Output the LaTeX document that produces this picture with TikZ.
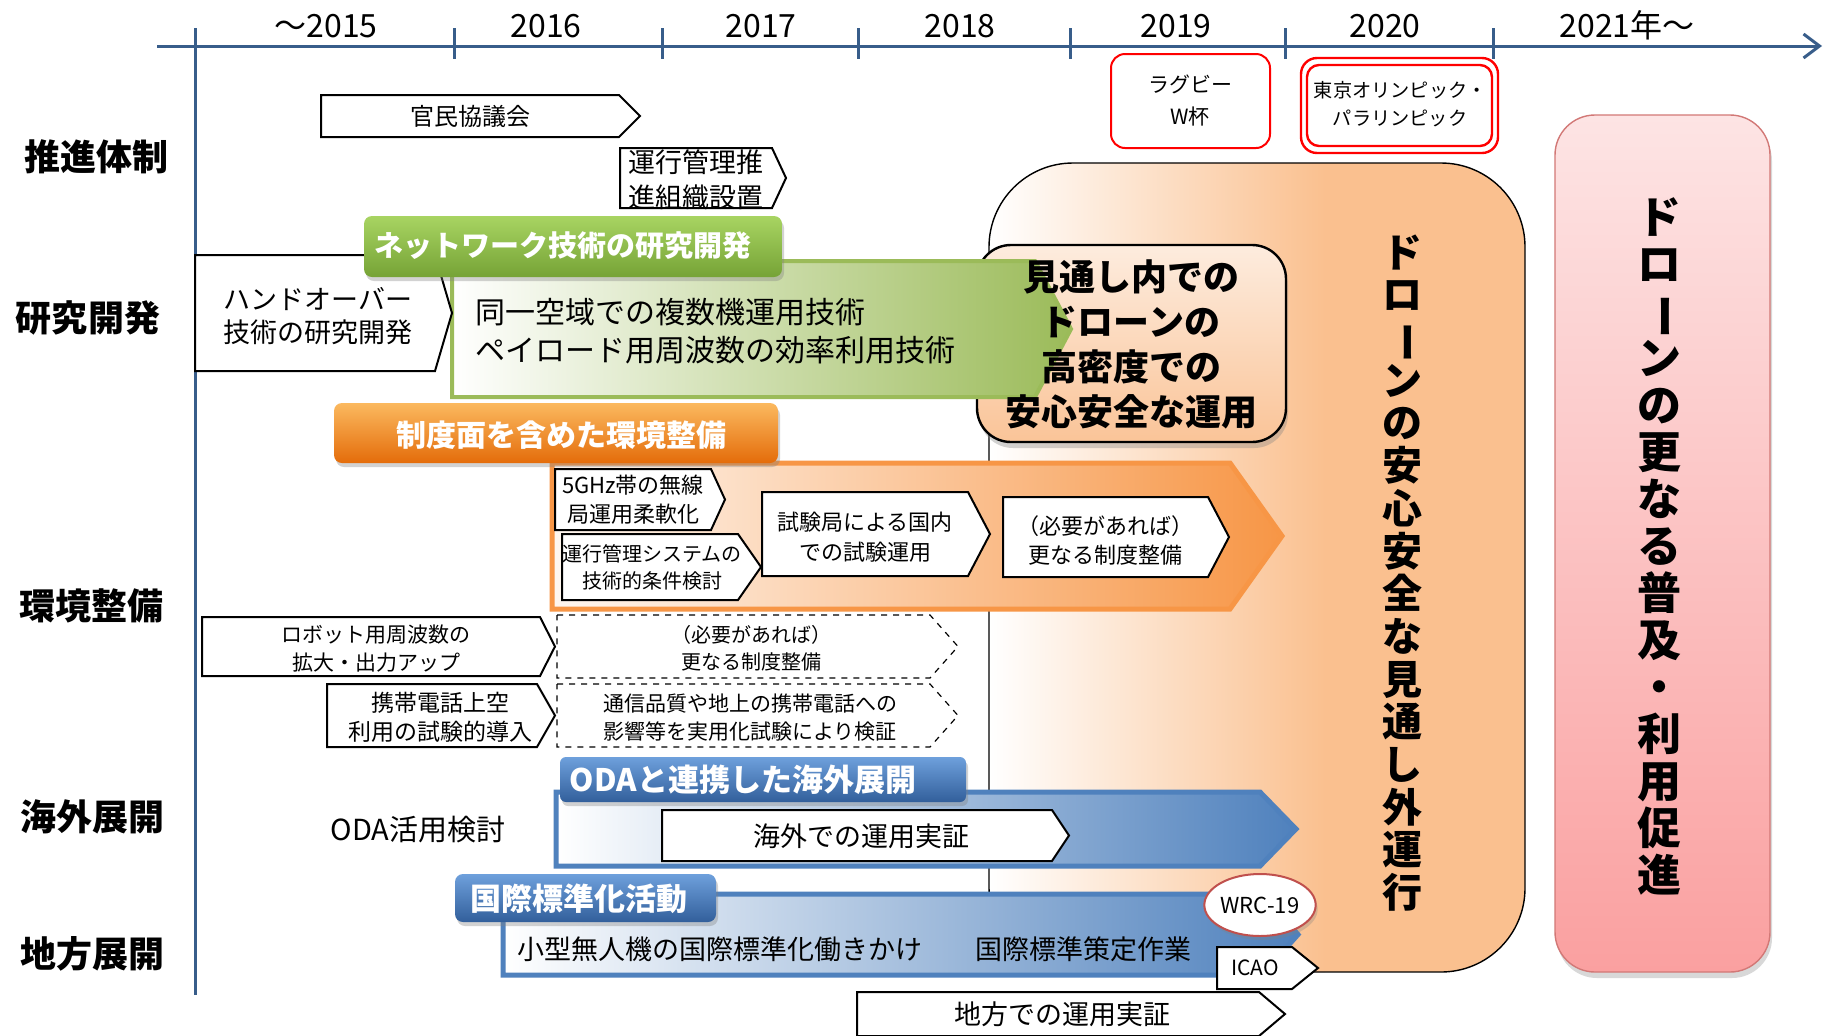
\documentclass[tikz,border=0pt]{standalone}
\usepackage{fontspec}
\setmainfont{Noto Sans CJK JP}
\usepackage{tikz}
\usetikzlibrary{arrows.meta,shadows,shapes.geometric,positioning}

\definecolor{axisblue}{RGB}{56,93,138}
\definecolor{panelorange}{RGB}{250,192,143}
\definecolor{arrowgreen}{RGB}{155,187,89}
\definecolor{arroworange}{RGB}{247,150,70}
\definecolor{arrowblue}{RGB}{79,129,189}
\definecolor{greentop}{RGB}{168,212,98}
\definecolor{greenbot}{RGB}{118,163,54}
\definecolor{orangetop}{RGB}{251,185,95}
\definecolor{orangebot}{RGB}{228,108,10}
\definecolor{bluetop}{RGB}{110,160,220}
\definecolor{bluebot}{RGB}{50,95,155}
\definecolor{peachtop}{RGB}{253,236,222}
\definecolor{peachbot}{RGB}{250,196,152}
\definecolor{pinktop}{RGB}{253,228,228}
\definecolor{pinkbot}{RGB}{250,160,160}
\definecolor{pinkline}{RGB}{210,120,118}
\definecolor{wrcred}{RGB}{192,80,77}

\newcommand\chouon{\rotatebox[origin=c]{-90}{ー}}
% pentagon arrow: [style]{left}{top}{body right}{bottom}{tip}
\newcommand\pent[6][]{\draw[#1] (#2,#3) -- (#4,#3) -- (#6,{(#3+#5)/2}) -- (#4,#5) -- (#2,#5) -- cycle;}

\tikzset{
  whitebox/.style={draw=black, fill=white, line width=1pt},
  dashbox/.style={draw=black, dashed, line width=0.6pt},
  titlebar/.style={rounded corners=4pt, drop shadow={opacity=0.35, shadow xshift=1pt, shadow yshift=-2pt}},
  fsz/.style 2 args={font=\fontsize{#1}{#2}\selectfont},
  bfsz/.style 2 args={font=\fontsize{#1}{#2}\selectfont\bfseries},
  titletext/.style={text=white, inner sep=0pt},
  rowlabel/.style={bfsz={18pt}{22pt}, inner sep=0pt},
  yearlabel/.style={fsz={16pt}{20pt}, anchor=base, inner sep=0pt},
  boxtext/.style={align=center, inner sep=0pt},
}

\begin{document}
\begin{tikzpicture}[x=0.5pt, y=-0.5pt]
\fill[white] (0,0) rectangle (1825,1035);
\useasboundingbox (0,0) rectangle (1825,1035);

% time axis
\coordinate (axis-start) at (157,46);
\coordinate (axis-end) at (1822,46);
\coordinate (axis-top) at (195,28);
\coordinate (axis-bottom) at (195,995);
\draw[axisblue, line width=1.5pt, -{Straight Barb[length=8pt,width=12pt]}] (axis-start) -- (axis-end);
\draw[axisblue, line width=1.5pt] (axis-top) -- (axis-bottom);
\foreach \x in {454,662,858,1070,1285,1493}
  \draw[axisblue, line width=1.5pt] (\x,28) -- (\x,59);

\node[yearlabel] (y2015) at (326,37) {～2015};
\node[yearlabel] (y2016) at (546,37) {2016};
\node[yearlabel] (y2017) at (761,37) {2017};
\node[yearlabel] (y2018) at (960,37) {2018};
\node[yearlabel] (y2019) at (1176,37) {2019};
\node[yearlabel] (y2020) at (1385,37) {2020};
\node[yearlabel] (y2021) at (1627,37) {2021年～};

% row labels
\node[rowlabel] (row-suishin) at (97,157) {推進体制};
\node[rowlabel] (row-kenkyu) at (88,318) {研究開発};
\node[rowlabel] (row-kankyo) at (91,606) {環境整備};
\node[rowlabel] (row-kaigai) at (92,817) {海外展開};
\node[rowlabel] (row-chihou) at (92,954) {地方展開};

% events
\draw[red, line width=1pt, rounded corners=7pt] (1111,54) rectangle (1270,148);
\node[boxtext, fsz={10.5pt}{16pt}] (rugby) at (1190,101) {ラグビー\\W杯};
\draw[red, line width=1.2pt, rounded corners=8pt] (1301,58) rectangle (1498,153);
\draw[red, line width=1.2pt, rounded corners=6pt] (1307,65) rectangle (1492,146);
\node[boxtext, fsz={9.6pt}{14pt}] (olympic) at (1400,104) {東京オリンピック・\\パラリンピック};

% panels
\begin{scope}
  \clip[rounded corners=42pt] (989,163) rectangle (1525,972);
  \fill[panelorange] (989,163) rectangle (1525,972);
  \shade[left color=white, right color=panelorange] (989,163) rectangle (1325,972);
\end{scope}
\draw[line width=0.7pt, rounded corners=42pt] (989,163) rectangle (1525,972);
\path[draw=pinkline, line width=0.7pt, top color=pinktop, bottom color=pinkbot, rounded corners=20pt,
  drop shadow={opacity=0.3, shadow xshift=1pt, shadow yshift=-3pt}] (1555,115) rectangle (1770,972);
\path[draw=black, line width=1.2pt, top color=peachtop, bottom color=peachbot, rounded corners=17pt,
  drop shadow={opacity=0.35, shadow xshift=1pt, shadow yshift=-3pt}] (977,245) rectangle (1286,442);

% 推進体制
\pent[whitebox]{321}{95}{619}{137}{640}
\node[boxtext, fsz={12pt}{15pt}] (kanmin) at (470,116) {官民協議会};
\pent[whitebox]{620}{148}{772}{208}{786}
\node[boxtext, fsz={13.5pt}{17.5pt}] (unkou-soshiki) at (696,180) {運行管理推\\進組織設置};

% 研究開発
\pent[draw=arrowgreen, line width=2pt, left color=white, right color=arrowgreen]{452}{261}{1035}{397}{1071}
\pent[whitebox]{195}{255}{435}{371}{452}
\node[boxtext, fsz={13.5pt}{16.5pt}] (handover) at (318,316) {ハンドオーバー\\技術の研究開発};
\path[titlebar, top color=greentop, bottom color=greenbot] (364,216) rectangle (782,277);
\node[titletext, bfsz={14.5pt}{17pt}] (green-title) at (563,246) {ネットワーク技術の研究開発};
\node[anchor=west, align=left, inner sep=0pt, fsz={15pt}{19pt}] (green-text) at (475,331)
  {同一空域での複数機運用技術\\ペイロード用周波数の効率利用技術};
\node[boxtext, bfsz={18pt}{22.5pt}] (los-text) at (1131,344) {見通し内での\\ドローンの\\高密度での\\安心安全な運用};

% 環境整備
\pent[draw=arroworange, line width=2.5pt, left color=arroworange!8, right color=arroworange]{552}{463}{1230}{609}{1282}
\path[titlebar, top color=orangetop, bottom color=orangebot] (334,403) rectangle (778,463);
\node[titletext, bfsz={15pt}{18pt}] (orange-title) at (561,435) {制度面を含めた環境整備};
\pent[whitebox]{555}{469}{711}{530}{725}
\node[boxtext, fsz={11pt}{14.5pt}] (ghz) at (633,500) {5GHz帯の無線\\局運用柔軟化};
\pent[whitebox]{562}{534}{738}{600}{761}
\node[boxtext, fsz={10pt}{13.5pt}] (unkou-sys) at (652,567) {運行管理システムの\\技術的条件検討};
\pent[whitebox]{762}{492}{968}{576}{990}
\node[boxtext, fsz={11pt}{15pt}] (shikenkyoku) at (865,537) {試験局による国内\\での試験運用};
\pent[whitebox]{1003}{497}{1208}{577}{1229}
\node[boxtext, fsz={11pt}{14.5pt}] (hitsuyou1) at (1105,540) {（必要があれば）\\更なる制度整備};
\pent[whitebox]{202}{617}{540}{676}{555}
\node[boxtext, fsz={10.5pt}{14pt}] (robot) at (376,649) {ロボット用周波数の\\拡大・出力アップ};
\pent[dashbox]{557}{615}{930}{678}{958}
\node[boxtext, fsz={10pt}{13.5pt}] (hitsuyou2) at (751,648) {（必要があれば）\\更なる制度整備};
\pent[whitebox]{327}{684}{537}{747}{555}
\node[boxtext, fsz={11.5pt}{14.5pt}] (keitai) at (440,717) {携帯電話上空\\利用の試験的導入};
\pent[dashbox]{557}{684}{930}{747}{958}
\node[boxtext, fsz={10.5pt}{14pt}] (tsushin) at (750,718) {通信品質や地上の携帯電話への\\影響等を実用化試験により検証};

% 海外展開
\pent[draw=arrowblue, line width=2.5pt, left color=white, right color=arrowblue]{556}{792}{1260}{866}{1296}
\path[titlebar, rounded corners=3pt, top color=bluetop, bottom color=bluebot] (560,757) rectangle (966,802);
\node[titletext, bfsz={15.5pt}{18pt}] (oda-title) at (743,780) {ODAと連携した海外展開};
\pent[whitebox]{662}{810}{1052}{861}{1069}
\node[boxtext, fsz={13.5pt}{16pt}] (kaigai) at (861,836) {海外での運用実証};
\node[inner sep=0pt, fsz={14.5pt}{17pt}] (oda-kentou) at (418,830) {ODA活用検討};

% 地方展開
\pent[draw=arrowblue, line width=2.5pt, left color=white, right color=arrowblue]{503}{894}{1262}{975}{1298}
\path[titlebar, top color=bluetop, bottom color=bluebot] (455,874) rectangle (716,922);
\node[titletext, bfsz={15.5pt}{18pt}] (kokusai-title) at (579,899) {国際標準化活動};
\node[anchor=west, inner sep=0pt, fsz={13.5pt}{16pt}] (kogata) at (517,949) {小型無人機の国際標準化働きかけ};
\node[anchor=west, inner sep=0pt, fsz={13.5pt}{16pt}] (sakutei) at (975,949) {国際標準策定作業};
\pent[whitebox]{1217}{947}{1292}{989}{1318}
\node[boxtext, fsz={10.5pt}{13pt}] (icao) at (1255,968) {ICAO};
\node[ellipse, draw=wrcred, fill=white, line width=1pt, minimum width=47pt, minimum height=31pt, inner sep=0pt,
  fsz={11pt}{13pt}, drop shadow={opacity=0.3, shadow xshift=1pt, shadow yshift=-2pt}] (wrc) at (1260,905) {WRC-19};
\pent[whitebox]{857}{992}{1259}{1036}{1285}
\node[boxtext, fsz={13.5pt}{16pt}] (chihou) at (1062,1014) {地方での運用実証};

% vertical panel texts
\node[boxtext, bfsz={20pt}{21.35pt}] (beyond-los) at (1402,573)
  {ド\\ロ\\\chouon\\ン\\の\\安\\心\\安\\全\\な\\見\\通\\し\\外\\運\\行};
\node[boxtext, bfsz={22pt}{23.5pt}] (fukyu) at (1659,546)
  {ド\\ロ\\\chouon\\ン\\の\\更\\な\\る\\普\\及\\・\\利\\用\\促\\進};
\end{tikzpicture}
\end{document}
